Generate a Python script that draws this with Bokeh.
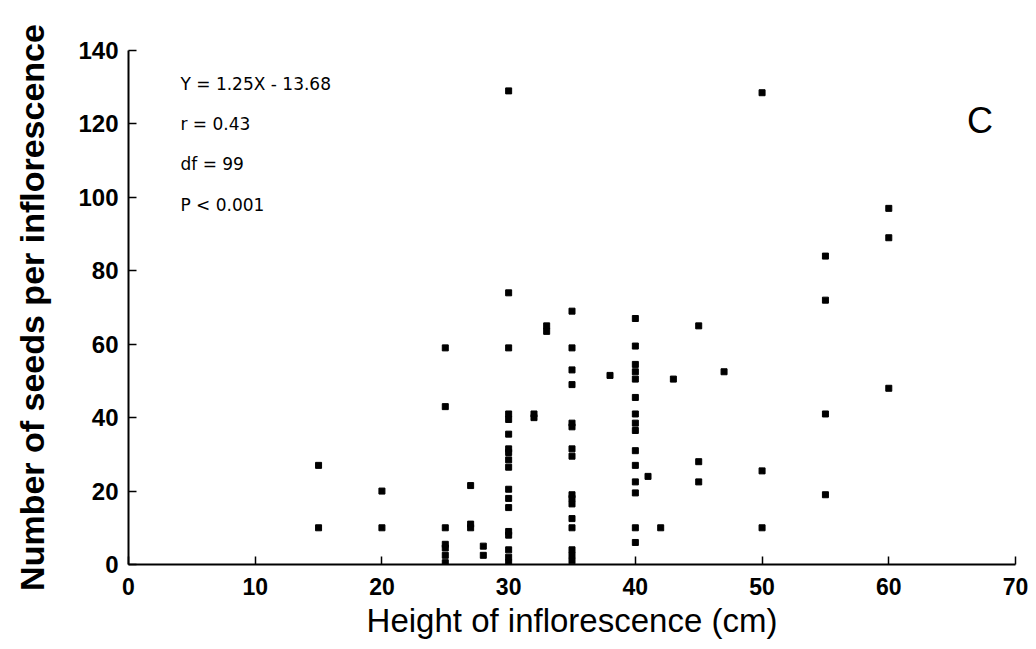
from bokeh.plotting import figure
from bokeh.models import Range1d, FixedTicker, ColumnDataSource
from bokeh.core.properties import value
from bokeh.embed import file_html
from bokeh.resources import INLINE

# ---- data (height in cm, seeds per inflorescence) ----
h15 = [27, 10]
h20 = [20, 10]
h25 = [59, 43, 10, 5.5, 4.5, 2.5, 0.5]
h27 = [21.5, 11, 10]
h28 = [5, 2.5]
h30 = [129, 74, 59, 41, 39.5, 35.5, 31.5, 30.5, 28.5, 26.5, 20.5, 18, 15.5, 9, 8, 4, 2, 0.5]
h32 = [41, 40]
h33 = [65, 63.5]
h35 = [69, 59, 53, 49, 38.5, 37.5, 31.5, 29.5, 19, 18, 16.5, 12.5, 10, 4, 2.5, 1]
h38 = [51.5]
h40 = [67, 59.5, 54.5, 52.5, 50.5, 45.5, 41, 38.5, 36.5, 31, 27, 22.5, 19.5, 10, 6]
h41 = [24]
h42 = [10]
h43 = [50.5]
h45 = [65, 28, 22.5]
h47 = [52.5]
h50 = [128.5, 25.5, 10]
h55 = [84, 72, 41, 19]
h60 = [97, 89, 48]

columns = {15: h15, 20: h20, 25: h25, 27: h27, 28: h28, 30: h30, 32: h32,
           33: h33, 35: h35, 38: h38, 40: h40, 41: h41, 42: h42, 43: h43,
           45: h45, 47: h47, 50: h50, 55: h55, 60: h60}

x_ticks = [0, 10, 20, 30, 40, 50, 60, 70]
y_ticks = [0, 20, 40, 60, 80, 100, 120, 140]

stat_lines = ["Y = 1.25X - 13.68", "r = 0.43", "df = 99", "P < 0.001"]
stat_y = [131, 120, 109, 98]
stat_x = [4.1, 4.1, 4.1, 4.1]
panel_label = "C"

heights, seeds = [], []
for hx, vals in columns.items():
    for v in vals:
        heights.append(hx)
        seeds.append(v)

src = ColumnDataSource(dict(x=heights, y=seeds))

p = figure(width=1028, height=641, output_backend="svg", toolbar_location=None,
           x_range=Range1d(0, 70), y_range=Range1d(0, 140),
           min_border_left=128, min_border_right=13, min_border_top=50,
           min_border_bottom=73)
p.outline_line_color = None
p.xgrid.grid_line_color = None
p.ygrid.grid_line_color = None
p.background_fill_color = "white"

p.scatter("x", "y", source=src, marker="square", size=6, color="black")

p.text(x=stat_x, y=stat_y, text=stat_lines, text_font=value("DejaVu Sans"),
       text_font_size="17px", text_baseline="middle", text_align="left",
       text_color="black")
p.text(x=[67.2], y=[120.8], text=[panel_label], text_font=value("Liberation Sans"),
       text_font_size="36px", text_baseline="middle", text_align="center",
       text_color="black")

for ax in (p.xaxis[0], p.yaxis[0]):
    ax.axis_line_width = 2
    ax.axis_line_color = "black"
    ax.major_tick_line_width = 1.5
    ax.major_tick_line_color = "black"
    ax.major_tick_in = 8
    ax.major_tick_out = 0
    ax.minor_tick_line_color = None
    ax.major_label_text_font = "Liberation Sans"
    ax.major_label_text_font_style = "bold"
    ax.major_label_text_color = "black"
    ax.axis_label_text_font = "Liberation Sans"
    ax.axis_label_text_color = "black"
    ax.major_label_text_line_height = 1.0
    ax.axis_label_text_line_height = 1.0

p.xaxis.ticker = FixedTicker(ticks=x_ticks)
p.yaxis.ticker = FixedTicker(ticks=y_ticks)

p.xaxis.axis_label = "Height of inflorescence (cm)"
p.xaxis.axis_label_text_font_size = "33px"
p.xaxis.axis_label_text_font_style = "normal"
p.xaxis.major_label_text_font_size = "23px"
p.xaxis.major_label_standoff = 13
p.xaxis.axis_label_standoff = 4

p.yaxis.axis_label = "Number of seeds per inflorescence"
p.yaxis.axis_label_text_font_size = "34px"
p.yaxis.axis_label_text_font_style = "bold"
p.yaxis.major_label_text_font_size = "24px"
p.yaxis.major_label_standoff = 10
p.yaxis.axis_label_standoff = 24

open("out.html", "w").write(file_html(p, INLINE))
